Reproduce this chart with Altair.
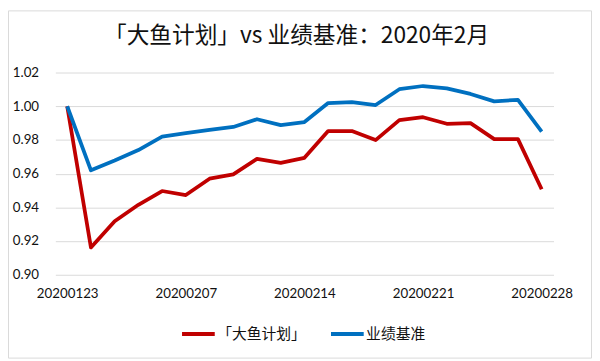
import altair as alt
import pandas as pd

dates = ["20200123", "20200203", "20200204", "20200205", "20200206", "20200207",
         "20200210", "20200211", "20200212", "20200213", "20200214",
         "20200217", "20200218", "20200219", "20200220", "20200221",
         "20200224", "20200225", "20200226", "20200227", "20200228"]
fund = [1.000, 0.9162, 0.9318, 0.9415, 0.9497, 0.9473, 0.9570, 0.9596, 0.9688, 0.9664, 0.9694,
        0.9853, 0.9853, 0.9799, 0.9918, 0.9935, 0.9896, 0.9900, 0.9805, 0.9805, 0.9507]
bench = [1.000, 0.9620, 0.9678, 0.9740, 0.9820, 0.9840, 0.9860, 0.9877, 0.9923, 0.9888, 0.9906,
         1.0019, 1.0025, 1.0007, 1.0101, 1.0120, 1.0106, 1.0073, 1.0029, 1.0038, 0.9850]
series_names = ["「大鱼计划」", "业绩基准"]
series_colors = ["#C00000", "#0070C0"]
tick_dates = ["20200123", "20200207", "20200214", "20200221", "20200228"]
y_ticks = [0.90, 0.92, 0.94, 0.96, 0.98, 1.00, 1.02]
title_text = "「大鱼计划」vs 业绩基准：2020年2月"

n = len(dates)
df = pd.DataFrame({
    "date": dates + dates,
    "value": fund + bench,
    "series": [series_names[0]] * n + [series_names[1]] * n,
})

W, H = 505, 205
CJK = "Noto Sans CJK SC"
NUM = "Lato"

frame = alt.Chart(pd.DataFrame({"a": [0]})).mark_rect(
    fill="white", fillOpacity=0, stroke="#d9d9d9", strokeWidth=1
).encode(
    x=alt.value(-47.5), x2=alt.value(543.5),
    y=alt.value(-62.5), y2=alt.value(289.5)
)

lines = alt.Chart(df).mark_line(strokeWidth=3.8, strokeJoin="round").encode(
    x=alt.X("date:N", sort=dates,
            scale=alt.Scale(type="point", padding=0.5),
            axis=alt.Axis(values=tick_dates, labelAngle=0, title=None, grid=False,
                          ticks=False, domain=False, labelPadding=12,
                          labelFont=NUM, labelFontSize=13.5, labelColor="#111")),
    y=alt.Y("value:Q",
            scale=alt.Scale(domain=[0.90, 1.02], nice=False, zero=False),
            axis=alt.Axis(values=y_ticks, format=".2f", title=None, ticks=False,
                          domain=False, grid=True, gridColor="#d9d9d9", gridWidth=1,
                          labelPadding=17, labelFont=NUM, labelFontSize=13.5,
                          labelColor="#111")),
    color=alt.Color("series:N",
                    scale=alt.Scale(domain=series_names, range=series_colors),
                    legend=alt.Legend(title=None, orient="none", legendX=126, legendY=246,
                                      direction="horizontal", symbolType="stroke",
                                      symbolStrokeWidth=4, symbolSize=1100,
                                      labelFont=CJK, labelFontSize=15, labelColor="#111",
                                      labelOffset=0, columnPadding=16)),
)

chart = alt.layer(frame, lines).properties(
    width=W, height=H,
    autosize=alt.AutoSizeParams(type="none"),
    padding={"left": 48, "top": 63, "right": 39, "bottom": 85},
    title=alt.Title(title_text, font=CJK, fontSize=23, fontWeight="normal",
                    color="#111", offset=-56, anchor="middle", baseline="alphabetic",
                    dx=-8),
).configure_view(stroke="transparent")

chart.save("out.html", embed_options={"renderer": "svg", "actions": False})
